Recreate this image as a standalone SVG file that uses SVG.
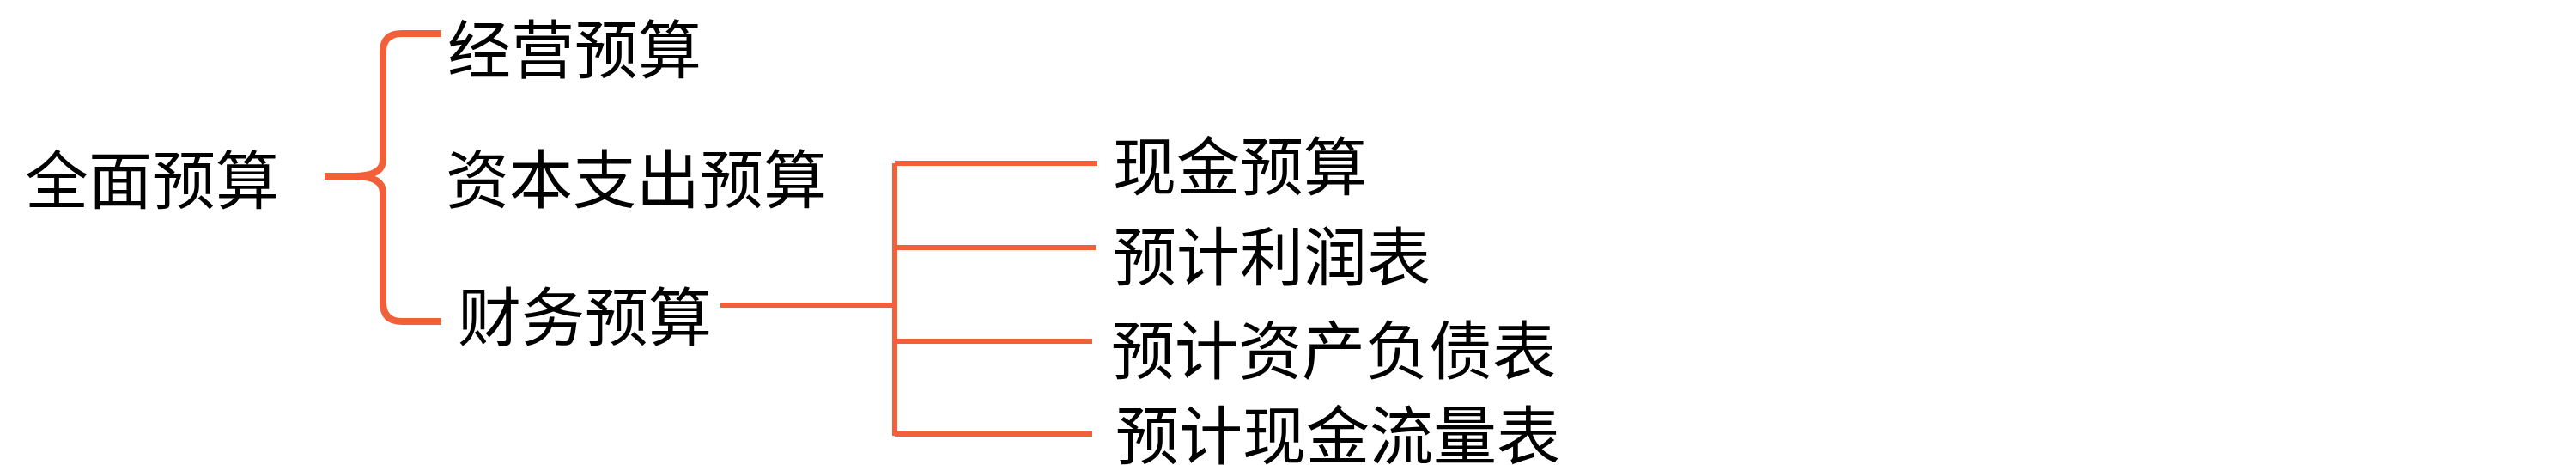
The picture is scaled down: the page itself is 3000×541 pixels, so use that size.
<svg xmlns="http://www.w3.org/2000/svg" width="3000" height="541" viewBox="0 0 3000 541">
<style>
.t{font-family:"Noto Sans CJK SC","Liberation Serif",serif;font-size:74px;fill:#000;dominant-baseline:central}
.ln{fill:none;stroke:#F2603A;stroke-width:6}
.br{fill:none;stroke:#F2603A;stroke-width:8;stroke-linecap:butt}
</style>
<rect width="3000" height="541" fill="#fff"/>
<g id="connectors">
<path class="br" d="M514,39 H468 Q446,39 446,60 V186 Q446,205 412,205 H378 M378,205 H412 Q446,205 446,224 V352 Q446,374 468,374 H514"/>
<path class="ln" d="M839,355 H1042"/>
<path class="ln" d="M1042,190 V507"/>
<path class="ln" d="M1042,190 H1278"/>
<path class="ln" d="M1042,288 H1276"/>
<path class="ln" d="M1042,397 H1272"/>
<path class="ln" d="M1042,505 H1272"/>
</g>
<g id="n_quanmian"><text class="t" x="29" y="204">全面预算</text></g>
<g id="n_jingying"><text class="t" x="521" y="52">经营预算</text></g>
<g id="n_ziben"><text class="t" x="519" y="203">资本支出预算</text></g>
<g id="n_caiwu"><text class="t" x="533" y="363">财务预算</text></g>
<g id="n_xianjin"><text class="t" x="1296" y="188">现金预算</text></g>
<g id="n_lirun"><text class="t" x="1296" y="293">预计利润表</text></g>
<g id="n_zichan"><text class="t" x="1294" y="402">预计资产负债表</text></g>
<g id="n_liuliang"><text class="t" x="1299" y="501">预计现金流量表</text></g>
</svg>
